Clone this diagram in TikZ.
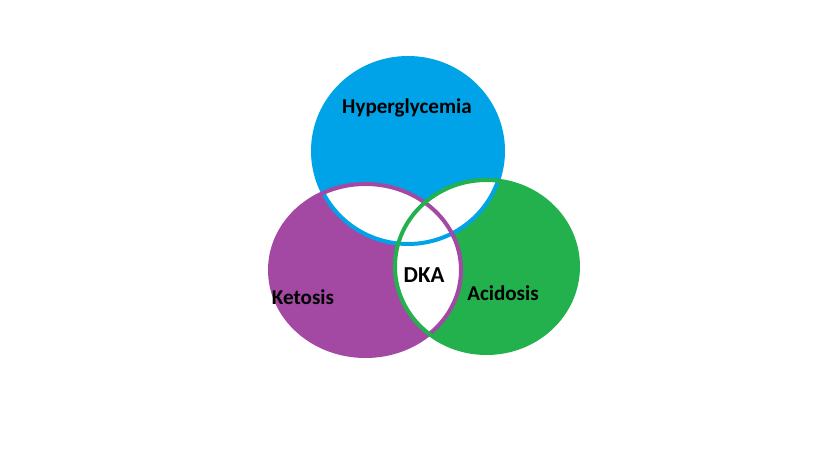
\documentclass[tikz,border=0pt]{standalone}
\usepackage{fontspec}
\setmainfont{Carlito}
\usetikzlibrary{positioning}
\definecolor{hypblue}{RGB}{0,162,232}
\definecolor{ketpurple}{RGB}{163,73,164}
\definecolor{acigreen}{RGB}{34,177,76}

\begin{document}
\begin{tikzpicture}[x=0.02cm,y=-0.02cm,
lbl/.style={font=\bfseries\fontsize{12}{14}\selectfont,text=black,inner sep=0pt},
rim/.style={line width=4*0.02cm}]
\useasboundingbox[fill=white] (0,0) rectangle (819,460);
% the three sets
\fill[hypblue] (408,151) ellipse [x radius=95,y radius=93];
\fill[ketpurple] (365.5,270) ellipse [x radius=95.5,y radius=86];
\fill[acigreen] (486.5,266.5) ellipse [x radius=91.5,y radius=86.5];
% overlaps left white
\begin{scope}
\clip (408,151) ellipse [x radius=95,y radius=93];
\fill[white] (365.5,270) ellipse [x radius=95.5,y radius=86];
\fill[white] (486.5,266.5) ellipse [x radius=91.5,y radius=86.5];
\end{scope}
\begin{scope}
\clip (365.5,270) ellipse [x radius=95.5,y radius=86];
\fill[white] (486.5,266.5) ellipse [x radius=91.5,y radius=86.5];
\end{scope}
% rims
\draw[rim,hypblue] (408,151) ellipse [x radius=95,y radius=93];
\draw[rim,ketpurple] (365.5,270) ellipse [x radius=95.5,y radius=86];
\draw[rim,acigreen] (486.5,266.5) ellipse [x radius=91.5,y radius=86.5];
% labels
\node[lbl] (hyp) at (407,108) {Hyperglycemia};
\node[lbl] (ket) at (303,297) {Ketosis};
\node[lbl] (aci) at (503,293) {Acidosis};
\node[lbl,font=\bfseries\fontsize{13}{15}\selectfont] (dka) at (424,275) {DKA};
\end{tikzpicture}
\end{document}
